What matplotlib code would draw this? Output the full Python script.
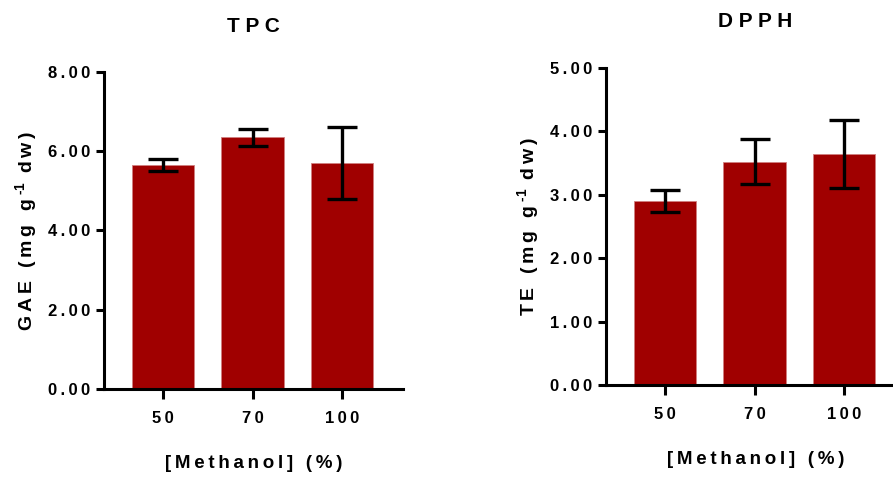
import matplotlib
matplotlib.use("Agg")
import matplotlib.pyplot as plt
import numpy as np

plt.rcParams['font.family'] = ['Liberation Sans', 'DejaVu Sans']
plt.rcParams['font.weight'] = 'bold'
plt.rcParams['mathtext.fontset'] = 'custom'
plt.rcParams['mathtext.rm'] = 'Liberation Sans'
plt.rcParams['mathtext.bf'] = 'Liberation Sans:bold'

categorias = ['50', '70', '100']

tpc_media = [5.65, 6.35, 5.70]
tpc_error = [0.16, 0.21, 0.90]

dpph_media = [2.90, 3.52, 3.64]
dpph_error = [0.18, 0.35, 0.53]

tpc_ticks = [0, 2, 4, 6, 8]
dpph_ticks = [0, 1, 2, 3, 4, 5]

color_barra = '#A00000'

TS = '\u2009'  # espacio fino, para imitar el espaciado de letras de Prism


def espaciar(texto, sep=TS):
    return sep.join(texto)


def etiqueta_y(prefijo):
    return espaciar(prefijo + ' (mg g') + TS + r'$^{\text{-1}}$' + TS + ' ' + espaciar('dw)')


def panel(ax, medias, errores, ticks, titulo, ylabel):
    x = np.arange(len(categorias))
    ax.bar(x, medias, width=0.7, color=color_barra, edgecolor='#d08080', linewidth=0.6,
           yerr=errores, capsize=11,
           error_kw=dict(ecolor='black', elinewidth=2.4, capthick=2.4))
    ax.set_xlim(-0.66, 2.68)
    ax.set_ylim(0, ticks[-1])
    ax.set_yticks(ticks)
    ax.set_yticklabels([espaciar('%.2f' % t) for t in ticks])
    ax.set_xticks(x)
    ax.set_xticklabels([espaciar(c) for c in categorias])
    for s in ['top', 'right']:
        ax.spines[s].set_visible(False)
    for s in ['left', 'bottom']:
        ax.spines[s].set_linewidth(2.2)
    ax.tick_params(axis='y', length=6, width=2.2, labelsize=12, pad=4)
    ax.tick_params(axis='x', length=7, width=2.2, labelsize=12, pad=9)
    ax.set_title(espaciar(titulo, ' '), fontsize=15, fontweight='bold', pad=29)
    ax.set_ylabel(ylabel, fontsize=14, fontweight='bold', labelpad=6)
    ax.set_xlabel(espaciar('[Methanol] (%)'), fontsize=13.5, fontweight='bold', labelpad=21)


fig = plt.figure(figsize=(8.93, 4.78), dpi=100)
ax1 = fig.add_axes([0.1165, 0.1862, 0.3348, 0.6632])
ax2 = fig.add_axes([0.6786, 0.1946, 0.3348, 0.6638])

panel(ax1, tpc_media, tpc_error, tpc_ticks, 'TPC', etiqueta_y('GAE'))
panel(ax2, dpph_media, dpph_error, dpph_ticks, 'DPPH', etiqueta_y('TE'))

fig.savefig('out.png', dpi=100)
